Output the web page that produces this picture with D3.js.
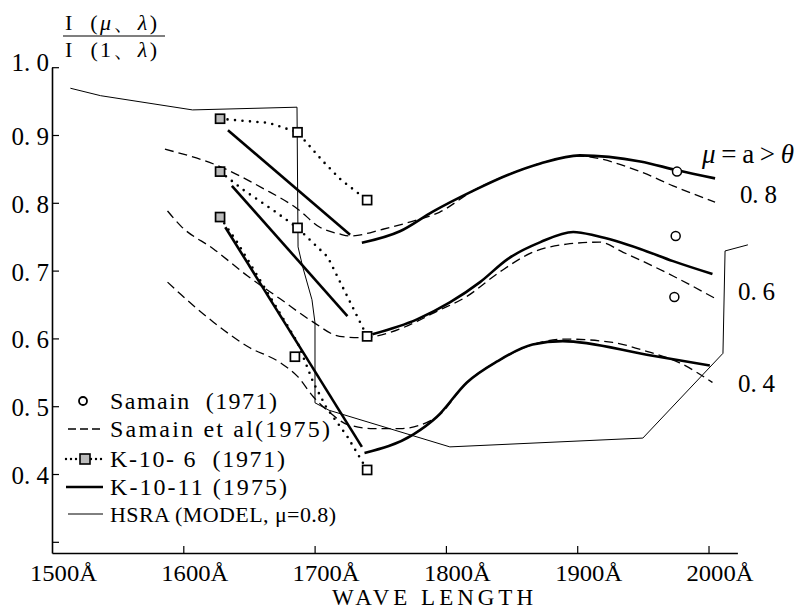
<!DOCTYPE html>
<html><head><meta charset="utf-8">
<script src="https://cdn.jsdelivr.net/npm/d3@7"></script>
<style>
body{margin:0;background:#fff}
svg{display:block}
svg text{font-family:"Liberation Serif","Times New Roman","DejaVu Serif",serif !important;fill:#000;white-space:pre}
</style></head><body>
<svg id="c" width="798" height="610" font-family="Liberation Serif, Times New Roman, serif"></svg>
<script>
// ---------- data ----------
const xTicks = [1600, 1700, 1800, 1900, 2000];
const xLabelValues = [1500, 1600, 1700, 1800, 1900, 2000];
const xTickLabels = ["1500Å", "1600Å", "1700Å", "1800Å", "1900Å", "2000Å"];
const yTicks = [0.3, 0.4, 0.5, 0.6, 0.7, 0.8, 0.9, 1.0];
const yTickLabels = ["", "0. 4", "0. 5", "0. 6", "0. 7", "0. 8", "0. 9", "1. 0"];
const muLabels = ["0. 8", "0. 6", "0. 4"];
const muLabelAnchors = [[2024, 0.80], [2022.5, 0.657], [2022.5, 0.521]];

// Samain (1971) circles
const samain71WL = [1976, 1975, 1974];
const samain71Val = [0.846, 0.751, 0.661];

// Samain et al (1975) dashed
const samain75_08 = [[1586,0.879],[1626,0.855],[1661,0.821],[1687,0.791],[1704,0.764],[1719,0.754],[1727,0.751],[1752,0.761],[1773,0.772],[1795,0.786],[1821,0.818],[1847,0.841],[1872,0.858],[1900,0.869],[1948,0.846],[1973,0.825],[2005,0.801]];
const samain75_06 = [[1588,0.788],[1598,0.766],[1623,0.732],[1649,0.692],[1674,0.658],[1699,0.624],[1719,0.603],[1735,0.601],[1778,0.625],[1790,0.637],[1816,0.662],[1841,0.698],[1866,0.727],[1892,0.739],[1917,0.742],[1935,0.727],[1973,0.692],[2006,0.658]];
const samain75_04 = [[1588,0.683],[1598,0.665],[1623,0.624],[1649,0.588],[1674,0.564],[1687,0.544],[1699,0.514],[1712,0.490],[1725,0.473],[1745,0.467],[1765,0.467],[1793,0.484],[1816,0.535],[1839,0.566],[1866,0.591],[1892,0.599],[1927,0.594],[1953,0.581],[1978,0.564],[2003,0.535]];

// K-10-6 (1971) dotted + squares
const k106_08 = [[1628,0.924],[1645,0.921],[1665,0.918],[1687,0.904],[1706,0.862],[1720,0.834],[1740,0.804]];
const k106_06 = [[1628,0.846],[1645,0.820],[1670,0.787],[1687,0.763],[1710,0.720],[1740,0.603]];
const k106_04 = [[1628,0.779],[1641,0.742],[1687,0.594],[1699,0.535],[1709,0.498],[1725,0.455],[1740,0.406]];
const k106SquaresWL = [1628, 1687, 1740, 1628, 1687, 1740, 1628, 1685, 1740];
const k106SquaresVal = [0.924, 0.904, 0.804, 0.846, 0.763, 0.603, 0.779, 0.573, 0.406];

// K-10-11 (1975) thick
const k1011_08a = [[1634,0.907],[1727,0.753]];
const k1011_08b = [[1736,0.741],[1765,0.758],[1790,0.787],[1821,0.818],[1847,0.841],[1872,0.858],[1902,0.870],[1948,0.861],[1976,0.848],[2005,0.836]];
const k1011_06a = [[1637,0.825],[1725,0.633]];
const k1011_06b = [[1744,0.606],[1778,0.628],[1803,0.653],[1826,0.683],[1847,0.717],[1872,0.742],[1897,0.757],[1915,0.751],[1948,0.732],[1973,0.714],[2003,0.695]];
const k1011_04a = [[1632,0.764],[1736,0.440]];
const k1011_04b = [[1738,0.431],[1775,0.458],[1793,0.484],[1816,0.535],[1839,0.566],[1866,0.591],[1889,0.596],[1953,0.576],[2001,0.560]];

// HSRA model (mu = 0.8), thin
const hsra = [[1514,0.969],[1537,0.958],[1607,0.937],[1686.6,0.941],[1687.4,0.735],[1691,0.705],[1698,0.657],[1700.3,0.623],[1700.3,0.505],[1711,0.494],[1803,0.440],[1950,0.453],[2011,0.578],[2012.6,0.729],[2030,0.738]];

// legend
const legendLabels = ["Samain  (1971)", "Samain et al(1975)", "K-10- 6  (1971)", "K-10-11 (1975)", "HSRA (MODEL, μ=0.8)"];
const legendWidths = [167, 220, 175, 177, 226];

// ---------- drawing ----------
const SERIF = "Liberation Serif, Times New Roman, DejaVu Serif, serif";
const svg = d3.select("#c");
const x = d3.scaleLinear().domain([1500, 2022]).range([52, 737.4]);
const y = d3.scaleLinear().domain([0.2835, 1.0]).range([553, 67.2]);

const smooth = d3.line().x(d => x(d[0])).y(d => y(d[1])).curve(d3.curveMonotoneX);
const straight = d3.line().x(d => x(d[0])).y(d => y(d[1]));

// axes
const yAxis = d3.axisLeft(y).tickValues(yTicks).tickSize(-7).tickSizeOuter(0).tickPadding(3)
  .tickFormat((d, i) => yTickLabels[i]);
const gy = svg.append("g").attr("transform", "translate(52,0)").call(yAxis)
  .attr("font-family", SERIF).attr("font-size", 25);
gy.select(".domain").attr("stroke-width", 1.6);
gy.selectAll(".tick line").attr("stroke-width", 1.2);
gy.selectAll(".tick text").attr("font-size", 25).attr("font-family", SERIF)
  .attr("dy", (d) => d === 1.0 ? "0.12em" : "0.38em");

const xAxis = d3.axisBottom(x).tickValues(xTicks).tickSize(-7).tickSizeOuter(0).tickFormat("");
const gx = svg.append("g").attr("transform", "translate(0,553)").call(xAxis);
gx.select(".domain").attr("stroke-width", 1.6);
gx.selectAll(".tick line").attr("stroke-width", 1.2);

svg.append("g").selectAll("text").data(xLabelValues).join("text")
  .attr("x", d => x(d) - 22).attr("y", 581)
  .attr("font-family", SERIF)
  .attr("font-size", 24).attr("textLength", 67).attr("lengthAdjust", "spacingAndGlyphs")
  .text((d, i) => xTickLabels[i]);

svg.append("text").attr("x", 332).attr("y", 605).attr("font-size", 23).attr("font-family", SERIF)
  .attr("textLength", 201).attr("lengthAdjust", "spacing").text("WAVE LENGTH");

// y title as fraction
svg.append("text").attr("x", 65).attr("y", 30).attr("font-size", 22).attr("font-family", SERIF)
  .attr("textLength", 92).attr("lengthAdjust", "spacing")
  .html('I  (<tspan font-style="italic">μ</tspan>、<tspan font-style="italic">λ</tspan>)');
svg.append("line").attr("x1", 63).attr("x2", 165).attr("y1", 36).attr("y2", 36)
  .attr("stroke", "#000").attr("stroke-width", 1.1);
svg.append("text").attr("x", 65).attr("y", 57).attr("font-size", 22).attr("font-family", SERIF)
  .attr("textLength", 92).attr("lengthAdjust", "spacing")
  .html('I  (1、<tspan font-style="italic">λ</tspan>)');

// right labels
svg.append("text").attr("x", 702).attr("y", 163).attr("font-size", 27).attr("font-family", SERIF)
  .attr("textLength", 92).attr("lengthAdjust", "spacing")
  .html('<tspan font-style="italic">μ</tspan>=a&gt;<tspan font-style="italic">θ</tspan>');
svg.append("g").selectAll("text").data(muLabels).join("text")
  .attr("x", (d, i) => x(muLabelAnchors[i][0]))
  .attr("y", (d, i) => y(muLabelAnchors[i][1]))
  .attr("font-family", SERIF)
  .attr("font-size", 25).attr("textLength", 37).attr("lengthAdjust", "spacing")
  .text(d => d);

// HSRA thin
svg.append("path").attr("d", straight(hsra)).attr("fill", "none")
  .attr("stroke", "#000").attr("stroke-width", 1);

// Samain et al dashed
[samain75_08, samain75_06, samain75_04].forEach(s => {
  svg.append("path").attr("d", smooth(s)).attr("fill", "none")
    .attr("stroke", "#000").attr("stroke-width", 1.3).attr("stroke-dasharray", "9,5");
});

// K-10-6 dotted
[k106_08, k106_06, k106_04].forEach(s => {
  svg.append("path").attr("d", straight(s)).attr("fill", "none")
    .attr("stroke", "#000").attr("stroke-width", 2.6).attr("stroke-linecap", "round")
    .attr("stroke-dasharray", "0,7.5");
});

// K-10-11 thick
[k1011_08a, k1011_06a, k1011_04a].forEach(s => {
  svg.append("path").attr("d", straight(s)).attr("fill", "none")
    .attr("stroke", "#000").attr("stroke-width", 2.6);
});
[k1011_08b, k1011_06b, k1011_04b].forEach(s => {
  svg.append("path").attr("d", smooth(s)).attr("fill", "none")
    .attr("stroke", "#000").attr("stroke-width", 2.6);
});

// K-10-6 squares
svg.append("g").selectAll("rect").data(k106SquaresWL).join("rect")
  .attr("x", d => x(d) - 4.5).attr("y", (d, i) => y(k106SquaresVal[i]) - 4.5)
  .attr("width", 9).attr("height", 9)
  .attr("fill", d => d < 1650 ? "#bbb" : "#fff")
  .attr("stroke", "#000").attr("stroke-width", 1.7);

// Samain circles
svg.append("g").selectAll("circle").data(samain71WL).join("circle")
  .attr("cx", d => x(d)).attr("cy", (d, i) => y(samain71Val[i])).attr("r", 4.5)
  .attr("fill", "#fff").attr("stroke", "#000").attr("stroke-width", 1.5);

// legend
const ly = [401, 429, 459, 487, 514];
const lg = svg.append("g");
lg.append("circle").attr("cx", 83).attr("cy", ly[0]).attr("r", 4)
  .attr("fill", "#fff").attr("stroke", "#000").attr("stroke-width", 1.8);
lg.append("line").attr("x1", 68).attr("x2", 102).attr("y1", ly[1]).attr("y2", ly[1])
  .attr("stroke", "#000").attr("stroke-width", 1.3).attr("stroke-dasharray", "8,4");
lg.append("line").attr("x1", 66).attr("x2", 106).attr("y1", ly[2]).attr("y2", ly[2])
  .attr("stroke", "#000").attr("stroke-width", 2.4).attr("stroke-linecap", "round").attr("stroke-dasharray", "0,5");
lg.append("rect").attr("x", 80).attr("y", ly[2] - 5).attr("width", 10).attr("height", 10)
  .attr("fill", "#bbb").attr("stroke", "#000").attr("stroke-width", 1.6);
lg.append("line").attr("x1", 66).attr("x2", 103).attr("y1", ly[3]).attr("y2", ly[3])
  .attr("stroke", "#000").attr("stroke-width", 2.6);
lg.append("line").attr("x1", 68).attr("x2", 103).attr("y1", ly[4]).attr("y2", ly[4])
  .attr("stroke", "#000").attr("stroke-width", 1);
lg.selectAll("text").data(legendLabels).join("text")
  .attr("x", 110).attr("y", (d, i) => ly[i] + 8)
  .attr("font-family", SERIF)
  .attr("font-size", (d, i) => i === 4 ? 22 : 24)
  .attr("textLength", (d, i) => legendWidths[i]).attr("lengthAdjust", "spacing")
  .text(d => d);
</script>
</body></html>
